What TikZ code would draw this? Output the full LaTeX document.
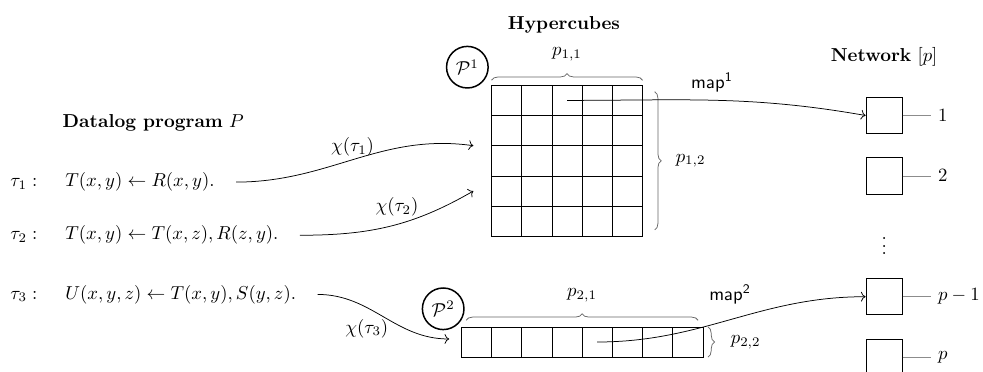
\documentclass[tikz,border=0pt]{standalone}
\usepackage{amsmath}
\usetikzlibrary{positioning,arrows.meta,decorations.pathreplacing}
\tikzset{
  cube/.style={draw, inner sep=0pt, outer sep=0pt},
  netbox/.style={draw, minimum size=0.68cm, inner sep=0pt},
  partcircle/.style={draw, thick, circle, minimum size=0.78cm, inner sep=0pt},
  rulerow/.style={anchor=base west},
  wire/.style={draw=black!45},
  dimbrace/.style={draw=black!60, decorate, decoration={brace, amplitude=3.5pt, raise=#1}},
  dimbrace/.default=3pt,
}
\begin{document}
\begin{tikzpicture}[x=0.5666cm, y=0.5666cm]
  \useasboundingbox (-0.275,-0.46) rectangle (32.275,11.825);

  % Datalog program
  \node (prog) at (4.8,7.75) {\textbf{Datalog program} $P$};
  \node[rulerow] (t1) at (-0.15,5.64) {$\tau_1:$};
  \node[rulerow] (r1) at (1.67,5.64) {$T(x,y) \leftarrow R(x,y).$};
  \node[rulerow] (t2) at (-0.15,3.88) {$\tau_2:$};
  \node[rulerow] (r2) at (1.67,3.88) {$T(x,y) \leftarrow T(x,z), R(z,y).$};
  \node[rulerow] (t3) at (-0.15,1.92) {$\tau_3:$};
  \node[rulerow] (r3) at (1.67,1.92) {$U(x,y,z) \leftarrow T(x,y), S(y,z).$};

  % Hypercubes
  \node (hyper) at (18.4,11) {\textbf{Hypercubes}};
  \node[cube, minimum width=2.833cm, minimum height=2.833cm] (c1) at (18.5,6.5) {};
  \draw (16,4) grid[step=1] (21,9);
  \node[cube, minimum width=4.533cm, minimum height=0.5666cm] (c2) at (19,0.5) {};
  \draw (15,0) grid[step=1] (23,1);
  \node[partcircle] (P1) at (15.2,9.6) {$\mathcal{P}^1$};
  \node[partcircle] (P2) at (14.4,1.6) {$\mathcal{P}^2$};

  % Braces
  \draw[dimbrace=2.7pt] (c1.north west) -- (c1.north east)
    node[midway, above=0.33cm] (p11) {$p_{1,1}$};
  \draw[dimbrace=6.5pt] ([yshift=-0.12cm]c1.north east) -- ([yshift=0.12cm]c1.south east)
    node[midway, right=0.5cm] (p12) {$p_{1,2}$};
  \draw[dimbrace=3.5pt] ([xshift=0.09cm]c2.north west) -- ([xshift=-0.09cm]c2.north east)
    node[midway, above=0.35cm] (p21) {$p_{2,1}$};
  \draw[dimbrace=2.7pt] (c2.north east) -- (c2.south east)
    node[midway, right=0.4cm] (p22) {$p_{2,2}$};

  % Network
  \node (net) at (29,9.95) {\textbf{Network} $[p]$};
  \foreach \k/\y/\lab in {1/8/1, 2/6/2, 3/2/p-1, 4/0/p} {
    \node[netbox] (n\k) at (29,\y) {};
    \coordinate (e\k) at ([xshift=0.54cm]n\k.east);
    \draw[wire] (n\k.east) -- (e\k) node[right] (l\k) {$\lab$};
  }
  \node (dots) at (29,3.85) {$\vdots$};

  % Rules to hypercubes
  \draw[->] ([xshift=0.28cm]r1.east) to[out=0, in=172] ([shift={(-0.6,0.5)}]c1.west);
  \draw[->] ([xshift=0.28cm]r2.east) to[out=0, in=210] ([shift={(-0.6,-1)}]c1.west);
  \draw[->] ([xshift=0.28cm]r3.east) to[out=0, in=180] ([shift={(-0.4,0.1)}]c2.west);
  \node (x1) at (11.4,6.97) {$\chi(\tau_1)$};
  \node (x2) at (12.87,4.98) {$\chi(\tau_2)$};
  \node (x3) at (11.87,0.95) {$\chi(\tau_3)$};

  % Hypercubes to network
  \draw[->] ([yshift=-0.5*0.5666cm]c1.north) to[out=0, in=170] (n1.west);
  \draw[->] ([xshift=0.5*0.5666cm]c2.center) to[out=0, in=180] (n3.west);
  \node (m1) at (23.3,9.08) {$\mathsf{map}^{\mathsf{1}}$};
  \node (m2) at (23.9,2.06) {$\mathsf{map}^{\mathsf{2}}$};
\end{tikzpicture}
\end{document}
